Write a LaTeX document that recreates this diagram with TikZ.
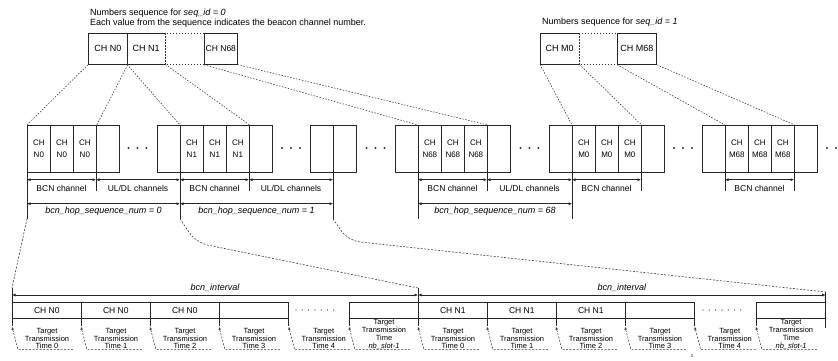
\documentclass[tikz,border=0pt]{standalone}
\usepackage{fontspec}
\setmainfont{Liberation Sans}
\usetikzlibrary{arrows.meta,calc}
\begin{document}
\begin{tikzpicture}[x=1pt,y=-1pt,
  ln/.style={draw=black!85, line width=0.7pt},
  dotl/.style={draw=black!80, line width=0.55pt, dash pattern=on 1.5pt off 1.5pt},
  dashl/.style={draw=black!80, line width=0.55pt, dash pattern=on 2pt off 1.5pt},
  topbox/.style={anchor=north west, minimum height=31pt, inner sep=0pt, font=\fontsize{9}{10}\selectfont},
  cell/.style={ln, anchor=north west, minimum width=23pt, minimum height=47pt, inner sep=0pt, align=center, font=\fontsize{8}{12}\selectfont},
  bbox/.style={ln, anchor=north west, minimum width=69pt, minimum height=16pt, inner sep=0pt, font=\fontsize{8.5}{10}\selectfont},
  dim/.style={draw=black!85, line width=0.6pt, {Latex[length=3.5pt,width=3pt]}-{Latex[length=3.5pt,width=3pt]}},
  lbl/.style={font=\fontsize{8.5}{10}\selectfont, inner sep=0pt},
  ilbl/.style={font=\fontsize{9}{10}\selectfont\itshape, inner sep=0pt},
  hdr/.style={font=\fontsize{9}{10}\selectfont, inner sep=0pt, anchor=west},
  tt/.style={font=\fontsize{7.5}{7.8}\selectfont, inner sep=0pt, align=center, anchor=south},
  dotf/.style={fill=black!80}
]
\useasboundingbox (0,0) rectangle (838,360);

% ---------- headers ----------
\node[hdr] (h0) at (90,13) {Numbers sequence for \textit{seq\_id = 0}};
\node[hdr] (h1) at (90,23) {Each value from the sequence indicates the beacon channel number.};
\node[hdr] (h2) at (542,22) {Numbers sequence for \textit{seq\_id = 1}};

% ---------- top sequences ----------
\node[topbox, ln, minimum width=39pt] (t0) at (88,33) {CH N0};
\node[topbox, minimum width=38pt] (t1) at (127,33) {CH N1};
\draw[ln] (t1.north east) -- (t1.north west) -- (t1.south west) -- (t1.south east);
\node[topbox, ln, minimum width=33pt, font=\fontsize{8.5}{10}\selectfont] (t68) at (204,33) {CH N68};
\draw[dotl] (t1.north east) rectangle (t68.south west);

\node[topbox, minimum width=39pt] (s0) at (540,33) {CH M0};
\draw[ln] (s0.north east) -- (s0.north west) -- (s0.south west) -- (s0.south east);
\node[topbox, ln, minimum width=39pt] (s68) at (617,33) {CH M68};
\draw[dotl] (s0.north east) rectangle (s68.south west);

% ---------- middle row ----------
\node[cell] (m1) at (27,125) {CH\\N0};
\node[cell] (m2) at (50,125) {CH\\N0};
\node[cell] (m3) at (73,125) {CH\\N0};
\node[cell] (m4) at (96,125) {};
\node[cell] (m5) at (157,125) {};
\node[cell] (m6) at (180,125) {CH\\N1};
\node[cell] (m7) at (203,125) {CH\\N1};
\node[cell] (m8) at (226,125) {CH\\N1};
\node[cell] (m9) at (249,125) {};
\node[cell] (m10) at (310,125) {};
\node[cell] (m11) at (333,125) {};
\node[cell] (m12) at (395,125) {};
\node[cell] (m13) at (418,125) {CH\\N68};
\node[cell] (m14) at (441,125) {CH\\N68};
\node[cell] (m15) at (464,125) {CH\\N68};
\node[cell] (m16) at (487,125) {};
\node[cell] (m17) at (549,125) {};
\node[cell] (m18) at (572,125) {CH\\M0};
\node[cell] (m19) at (595,125) {CH\\M0};
\node[cell] (m20) at (618,125) {CH\\M0};
\node[cell] (m21) at (641,125) {};
\node[cell] (m22) at (702,125) {};
\node[cell] (m23) at (725,125) {CH\\M68};
\node[cell] (m24) at (748,125) {CH\\M68};
\node[cell] (m25) at (771,125) {CH\\M68};
\node[cell] (m26) at (794,125) {};

\foreach \c in {137.5,291,375.5,529.5,683}{
  \foreach \d in {-9,0,9} \fill[dotf] (\c+\d,148) circle (1.1pt);
}
\fill[dotf] (827,148) circle (1.1pt);
\fill[dotf] (836,148) circle (1.1pt);

% top-to-middle connectors
\draw[dotl] (t0.south west) -- (m1.north west);
\draw[dotl] (t0.south east) -- (m3.north east);
\draw[dotl] (t1.south west) -- (m6.north west);
\draw[dotl] (t1.south east) -- (m8.north east);
\draw[dotl] (t68.south west) -- (m13.north west);
\draw[dotl] (t68.south east) -- (m15.north east);
\draw[dotl] (s0.south west) -- (m18.north west);
\draw[dotl] (s0.south east) -- (m20.north east);
\draw[dotl] (s68.south west) -- (m23.north west);
\draw[dotl] (s68.south east) -- (m25.north east);

% extension lines
\draw[ln] (m1.south west) -- ++(0,46) coordinate (e0);
\draw[ln] (m4.south west) -- ++(0,18);
\draw[ln] (m6.south west) -- ++(0,46) coordinate (e1);
\draw[ln] (m9.south west) -- ++(0,18);
\draw[ln] (m11.south west) -- ++(0,46) coordinate (e2);
\draw[ln] (m13.south west) -- ++(0,46);
\draw[ln] (m16.south west) -- ++(0,18);
\draw[ln] (m18.south west) -- ++(0,46);
\draw[ln] (m21.south west) -- ++(0,18);
\draw[ln] (m23.south west) -- ++(0,18);
\draw[ln] (m26.south west) -- ++(0,18);

% dimension lines
\draw[dim] ([yshift=-7pt]m1.south west) -- ([yshift=-7pt]m4.south west);
\draw[dim] ([yshift=-7pt]m4.south west) -- ([yshift=-7pt]m6.south west);
\draw[dim] ([yshift=-7pt]m6.south west) -- ([yshift=-7pt]m9.south west);
\draw[dim] ([yshift=-7pt]m9.south west) -- ([yshift=-7pt]m11.south west);
\draw[dim] ([yshift=-7pt]m13.south west) -- ([yshift=-7pt]m16.south west);
\draw[dim] ([yshift=-7pt]m16.south west) -- ([yshift=-7pt]m18.south west);
\draw[dim] ([yshift=-7pt]m18.south west) -- ([yshift=-7pt]m21.south west);
\draw[dim] ([yshift=-7pt]m23.south west) -- ([yshift=-7pt]m26.south west);
\draw[dim] ([yshift=-31pt]m1.south west) -- ([yshift=-31pt]m6.south west);
\draw[dim] ([yshift=-31pt]m6.south west) -- ([yshift=-31pt]m11.south west);
\draw[dim] ([yshift=-31pt]m13.south west) -- ([yshift=-31pt]m18.south west);

\node[lbl] (l1) at ($(m1.south west)!0.5!(m4.south west)+(0,16)$) {BCN channel};
\node[lbl] (l2) at ($(m4.south west)!0.5!(m6.south west)+(0,16)$) {UL/DL channels};
\node[lbl] (l3) at ($(m6.south west)!0.5!(m9.south west)+(0,16)$) {BCN channel};
\node[lbl] (l4) at ($(m9.south west)!0.5!(m11.south west)+(0,16)$) {UL/DL channels};
\node[lbl] (l5) at ($(m13.south west)!0.5!(m16.south west)+(0,16)$) {BCN channel};
\node[lbl] (l6) at ($(m16.south west)!0.5!(m18.south west)+(0,16)$) {UL/DL channels};
\node[lbl] (l7) at ($(m18.south west)!0.5!(m21.south west)+(0,16)$) {BCN channel};
\node[lbl] (l8) at ($(m23.south west)!0.5!(m26.south west)+(0,16)$) {BCN channel};
\node[ilbl] (q0) at ($(m1.south west)!0.5!(m6.south west)+(0,38)$) {bcn\_hop\_sequence\_num = 0};
\node[ilbl] (q1) at ($(m6.south west)!0.5!(m11.south west)+(0,38)$) {bcn\_hop\_sequence\_num = 1};
\node[ilbl] (q2) at ($(m13.south west)!0.5!(m18.south west)+(0,38)$) {bcn\_hop\_sequence\_num = 68};

% ---------- bottom row ----------
\node[bbox] (b1) at (12,302) {CH N0};
\node[bbox] (b2) at (81,302) {CH N0};
\node[bbox] (b3) at (150,302) {CH N0};
\node[bbox] (b4) at (219,302) {};
\node[bbox] (b5) at (349,302) {};
\node[bbox] (b6) at (418,302) {CH N1};
\node[bbox] (b7) at (487,302) {CH N1};
\node[bbox] (b8) at (556,302) {CH N1};
\node[bbox] (b9) at (625,302) {};
\node[bbox] (b10) at (756,302) {};

\foreach \x in {0,...,6} \fill[dotf] (296+6.3*\x,310) circle (0.65pt);
\foreach \x in {0,...,6} \fill[dotf] (703+6.3*\x,310) circle (0.65pt);

\draw[ln] ([yshift=14pt]b1.north west) coordinate (k0) -- (b1.south west);
\draw[ln] ([yshift=14pt]b6.north west) coordinate (k1) -- (b6.south west);
\draw[ln] ([yshift=10pt]b10.north east) coordinate (k2) -- ([yshift=-9pt]b10.south east);

\draw[dim] ([yshift=7pt]b1.north west) -- ([yshift=7pt]b6.north west);
\draw[dim] ([yshift=7pt]b6.north west) -- ([yshift=7pt]b10.north east);
\node[ilbl] (i1) at ($(b1.north west)!0.5!(b6.north west)+(0,-14)$) {bcn\_interval};
\node[ilbl] (i2) at ($(b6.north west)!0.5!(b10.north east)+(0,-14)$) {bcn\_interval};

% middle-to-bottom connectors
\draw[dashl] (e0) -- (k0);
\draw[dashl, rounded corners=12pt] (e1) -- ++(16,24) -- (k1);
\draw[dashl, rounded corners=12pt] (e2) -- ++(15,22) -- (k2);

% target transmission time callouts
\foreach \p/\t in {b1.south west/Time 0, b2.south west/Time 1, b3.south west/Time 2,
                   b4.south west/Time 3, b4.south east/Time 4,
                   b5.south west/{Time\\\textit{nb\_slot-1}},
                   b6.south west/Time 0, b7.south west/Time 1, b8.south west/Time 2,
                   b9.south west/Time 3, b9.south east/Time 4,
                   b10.south west/{Time\\\textit{nb\_slot-1}}}{
  \draw[ln] (\p) -- ++(0,7.5);
  \draw[dashl, -{Latex[length=3pt,width=2.5pt]}] ($(\p)+(61,31)$) -- ($(\p)+(6,31)$) -- ($(\p)+(0,8)$);
  \node[tt] at ($(\p)+(35,30.5)$) {Target\\Transmission\\\t};
}

\node[font=\fontsize{4}{4}\selectfont, inner sep=0pt] (sm) at (692,356) {3};
\end{tikzpicture}
\end{document}
